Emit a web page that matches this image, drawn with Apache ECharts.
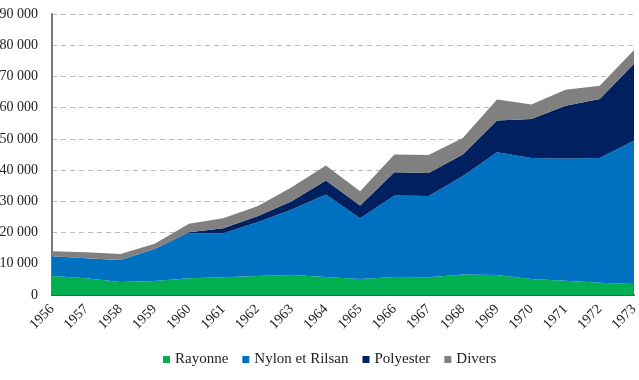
<!DOCTYPE html>
<html>
<head>
<meta charset="utf-8">
<script src="https://cdn.jsdelivr.net/npm/echarts@6/dist/echarts.min.js"></script>
<style>
  html, body { margin: 0; padding: 0; background: #fff; }
  #chart { width: 639px; height: 380px; }
</style>
</head>
<body>
<div id="chart"></div>
<script>
// Years on the x axis
const years = ["1956", "1957", "1958", "1959", "1960", "1961", "1962", "1963", "1964",
  "1965", "1966", "1967", "1968", "1969", "1970", "1971", "1972", "1973"];

// Stacked series values
const rayonne = [6100, 5400, 4200, 4500, 5400, 5700, 6100, 6400, 5800,
  5100, 5800, 5700, 6600, 6400, 5100, 4600, 3900, 3500];
const nylon = [6300, 6400, 7000, 10200, 14400, 14100, 17200, 21000, 26400,
  19500, 26100, 26000, 31500, 39300, 38800, 39100, 40000, 46000];
const polyester = [0, 0, 0, 100, 300, 1600, 1900, 2600, 4500,
  4100, 7400, 7400, 6900, 10200, 12500, 16900, 18900, 24600];
const divers = [1600, 1900, 1900, 1600, 2700, 3200, 3200, 4500, 4800,
  4500, 5700, 5700, 5300, 6700, 4600, 5100, 4200, 4400];

const seriesNames = ["Rayonne", "Nylon et Rilsan", "Polyester", "Divers"];
const seriesColors = ["#00B050", "#0070C0", "#002060", "#808080"];
const seriesData = [rayonne, nylon, polyester, divers];

const FONT = "'Liberation Serif', 'Times New Roman', serif";

const chart = echarts.init(document.getElementById("chart"));

const fmt = (v) => String(v).replace(/\B(?=(\d{3})+(?!\d))/g, " ");

const option = {
  animation: false,
  textStyle: { fontFamily: FONT },
  color: seriesColors,
  grid: {
    left: 52,
    right: 5,
    top: 14,
    bottom: 85,
    containLabel: false,
    outerBoundsMode: "none",
  },
  legend: {
    top: 347,
    left: 158,
    itemWidth: 7,
    itemHeight: 7,
    itemGap: 14,
    icon: "rect",
    textStyle: { fontFamily: FONT, fontSize: 15, color: "#222" },
    data: seriesNames,
  },
  xAxis: {
    type: "category",
    data: years,
    boundaryGap: false,
    axisLine: { lineStyle: { color: "#3f5f45", width: 2 } },
    axisTick: { show: false },
    axisLabel: {
      rotate: 45,
      margin: 12,
      fontSize: 14,
      color: "#222",
      fontFamily: FONT,
    },
    splitLine: { show: false },
  },
  yAxis: {
    type: "value",
    min: 0,
    max: 90000,
    interval: 10000,
    axisLine: { show: true, lineStyle: { color: "#777", width: 2 } },
    axisTick: { show: false },
    axisLabel: {
      margin: 14,
      fontSize: 14,
      color: "#222",
      fontFamily: FONT,
      formatter: fmt,
    },
    splitLine: { lineStyle: { color: "#bbb", type: [5, 4], width: 1 } },
  },
  series: seriesNames.map((name, i) => ({
    name: name,
    type: "line",
    stack: "total",
    data: seriesData[i],
    symbol: "none",
    lineStyle: { width: 0 },
    areaStyle: { color: seriesColors[i], opacity: 1 },
    itemStyle: { color: seriesColors[i] },
  })),
};

chart.setOption(option);
</script>
</body>
</html>
